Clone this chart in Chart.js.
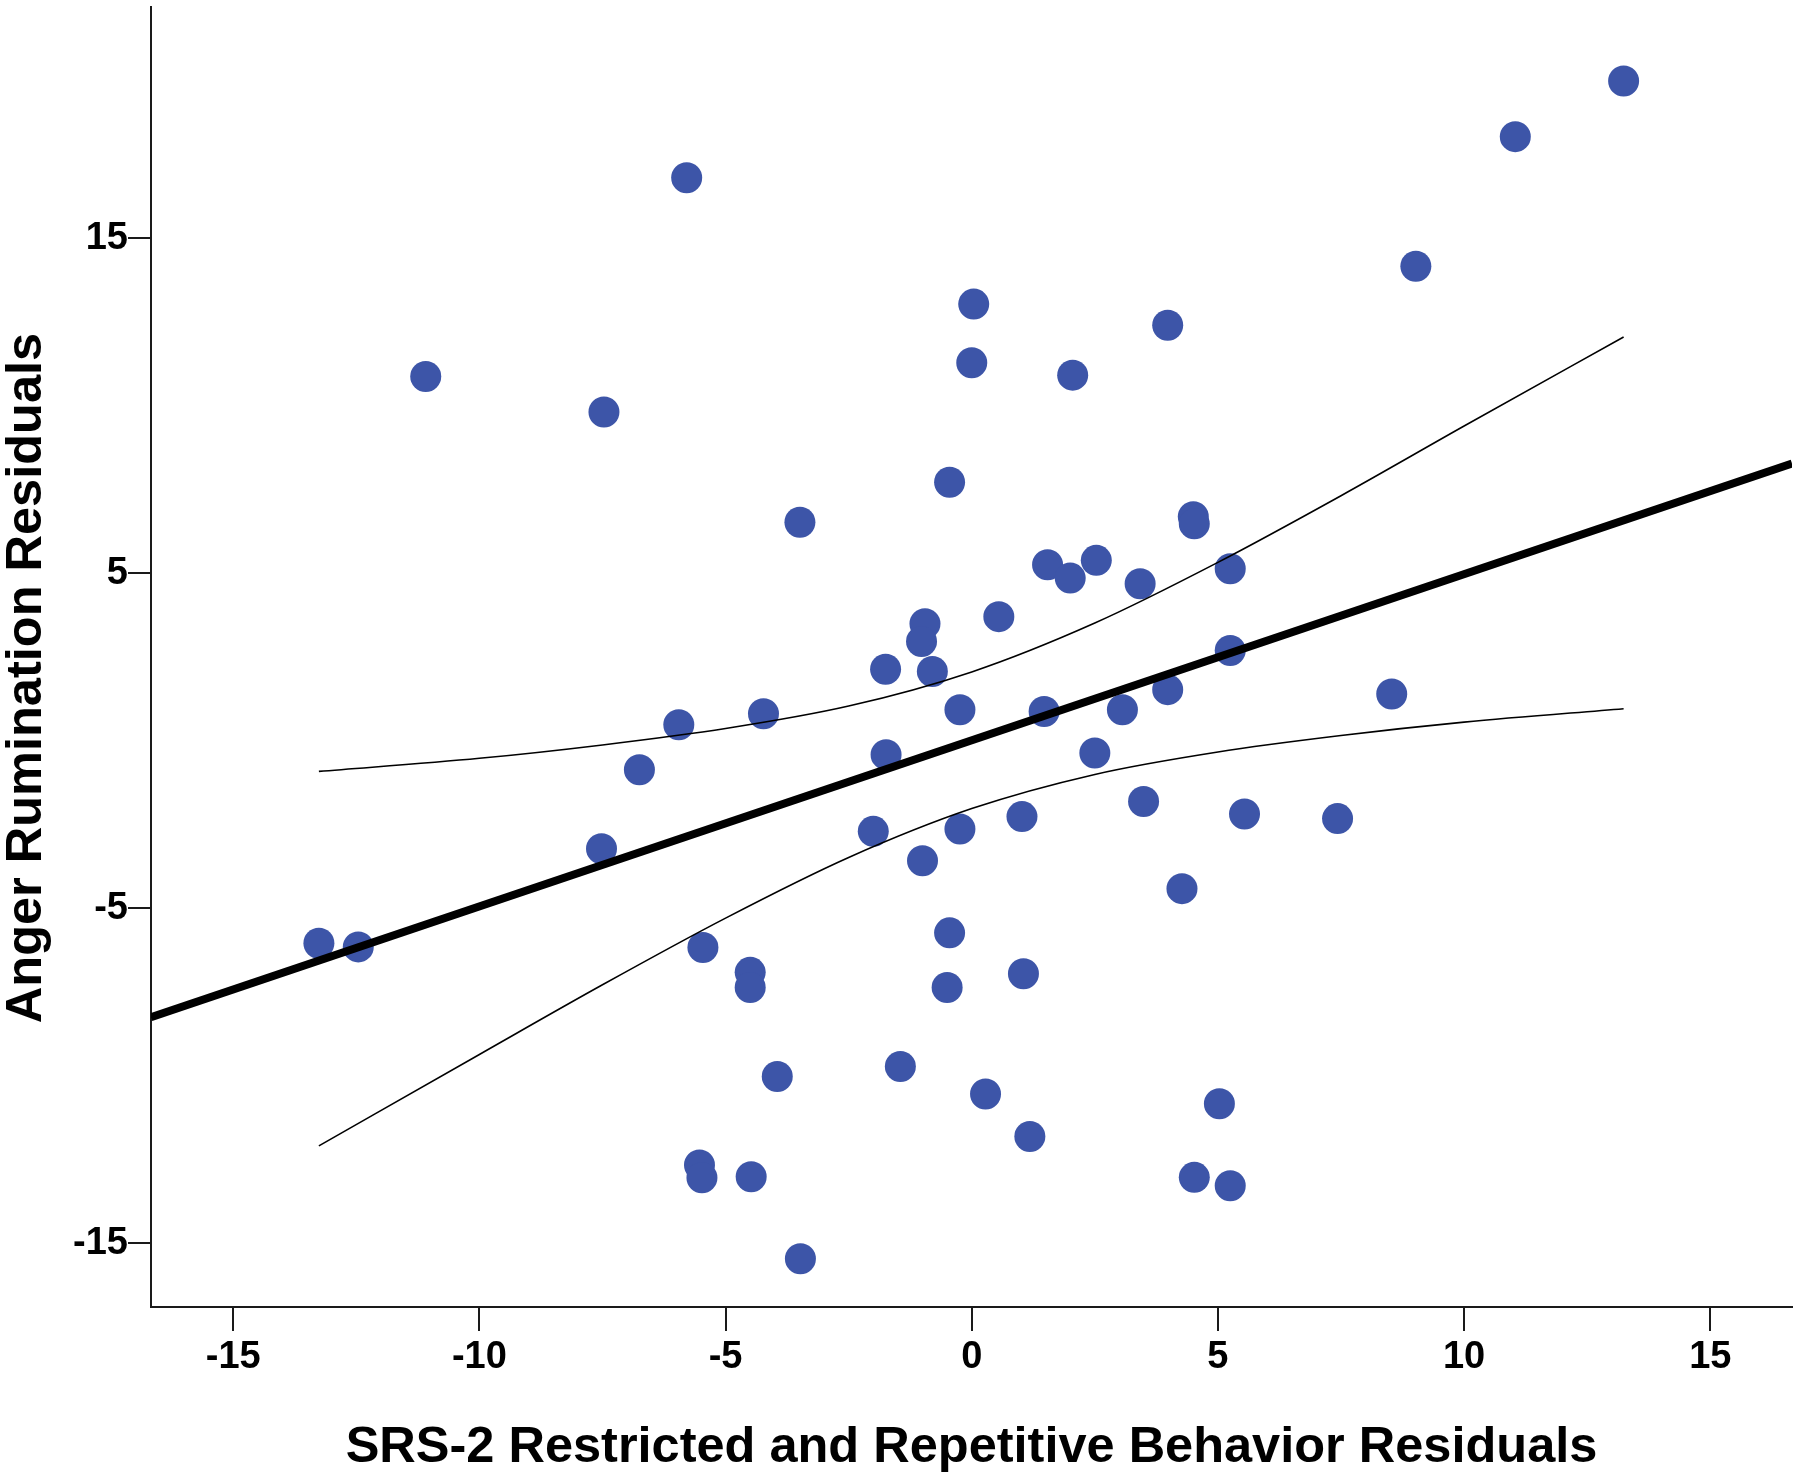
<!DOCTYPE html>
<html>
<head>
<meta charset="utf-8">
<script src="https://cdn.jsdelivr.net/npm/chart.js@4.4.1/dist/chart.umd.min.js"></script>
<style>
  html, body { margin: 0; padding: 0; background: #fff; }
  #wrap { width: 1800px; height: 1482px; }
</style>
</head>
<body>
<div id="wrap"><canvas id="residuals" width="1800" height="1482"></canvas></div>
<script>
// residuals
var srsResiduals = [13.24, 11.04, -5.79, 9.02, 0.04, 3.98, -11.09, 0.00, 2.05, -7.47,
    -0.45, -3.49, 4.50, 4.52, 1.54, 2.00, 2.53, 3.42, 5.25, 0.55,
    -0.95, -1.02, -1.75, -0.80, 5.25, -0.24, 1.47, 3.06, 3.98, -1.74,
    2.50, -2.00, -0.24, 1.02, -1.00, 3.49, 5.54, 4.27, -0.45, -0.50,
    1.05, -1.45, 0.28, 1.18, 5.03, 4.52, 5.25, 8.53, 7.43, -5.95,
    -4.23, -6.75, -7.52, -5.46, -4.50, -4.50, -13.26, -12.46, -3.95, -5.53,
    -5.48, -4.48, -3.48];
var angerResiduals = [19.69, 18.03, 16.80, 14.16, 13.03, 12.40, 10.87, 11.28, 10.91, 9.81,
    7.71, 6.52, 6.68, 6.47, 5.25, 4.85, 5.38, 4.68, 5.13, 3.70,
    3.49, 2.96, 2.13, 2.06, 2.69, 0.92, 0.87, 0.92, 1.52, -0.42,
    -0.37, -2.71, -2.64, -2.27, -3.59, -1.82, -2.19, -4.42, -5.74, -7.37,
    -6.96, -9.73, -10.55, -11.82, -10.84, -13.04, -13.29, 1.39, -2.33, 0.47,
    0.80, -0.87, -3.23, -6.18, -6.92, -7.37, -6.05, -6.16, -10.03, -12.67,
    -13.05, -13.02, -15.47];

// fit line and 95% band
var fitX = [-16.67, 16.66];
var fitY = [-8.26, 8.27];
var bandX = [-13.26, -10, -7.5, -5, -2.5, 0, 2.5, 5, 7.5, 10, 13.24];
var bandUpper = [-0.92, -0.53, -0.13, 0.36, 1.03, 2.05, 3.51, 5.32, 7.31, 9.39, 12.05];
var bandLower = [-12.10, -9.37, -7.29, -5.30, -3.49, -2.03, -1.01, -0.34, 0.15, 0.55, 0.95];

var xTicks = [-15, -10, -5, 0, 5, 10, 15];
var yTicks = [-15, -5, 5, 15];

function pares(xs, ys) {
    return xs.map(function(x, i) { return { x: x, y: ys[i] }; });
}

function fixTicks(valores) {
    return function(scale) {
        scale.ticks = valores.map(function(v) { return { value: v }; });
    };
}

// keep chart area where the original puts it
function fixSize(prop, valor) {
    return function(scale) {
        scale[prop] = valor;
        scale.paddingTop = 0;
        scale.paddingBottom = 0;
        scale.paddingLeft = 0;
        scale.paddingRight = 0;
    };
}

var fonte = '"Liberation Sans", Arial, sans-serif';
var corEixo = '#1a1a1a';

var bandStyle = {
    type: 'line',
    borderColor: '#000',
    borderWidth: 1.6,
    pointRadius: 0,
    fill: false,
    cubicInterpolationMode: 'monotone',
    order: 0
};

new Chart(document.getElementById('residuals').getContext('2d'), {
    type: 'scatter',
    data: {
        datasets: [
            Object.assign({ data: pares(bandX, bandUpper) }, bandStyle),
            Object.assign({ data: pares(bandX, bandLower) }, bandStyle),
            {
                type: 'line',
                data: pares(fitX, fitY),
                borderColor: '#000',
                borderWidth: 8,
                pointRadius: 0,
                fill: false,
                order: 0
            },
            {
                data: pares(srsResiduals, angerResiduals),
                backgroundColor: 'rgb(61,85,168)',
                borderWidth: 0,
                pointRadius: 15.5,
                pointHoverRadius: 15.5,
                order: 1
            }
        ]
    },
    options: {
        responsive: false,
        animation: false,
        events: [],
        layout: { autoPadding: false, padding: { left: 0, top: 7, right: 8, bottom: 0 } },
        plugins: { legend: { display: false }, tooltip: { enabled: false } },
        scales: {
            x: {
                type: 'linear',
                min: -16.67,
                max: 16.66,
                afterBuildTicks: fixTicks(xTicks),
                afterFit: fixSize('height', 175),
                border: { display: true, color: corEixo, width: 2 },
                grid: { drawOnChartArea: false, drawTicks: true, tickLength: 24, color: corEixo, lineWidth: 2 },
                ticks: { color: '#000', padding: 4, maxRotation: 0, font: { family: fonte, size: 38, weight: 'bold' } },
                title: {
                    display: true,
                    text: 'SRS-2 Restricted and Repetitive Behavior Residuals',
                    color: '#000',
                    padding: { top: 0, bottom: 9 },
                    font: { family: fonte, size: 50.5, weight: 'bold', lineHeight: 1 }
                }
            },
            y: {
                type: 'linear',
                min: -16.91,
                max: 21.9,
                afterBuildTicks: fixTicks(yTicks),
                afterFit: fixSize('width', 151),
                border: { display: true, color: corEixo, width: 2 },
                grid: { drawOnChartArea: false, drawTicks: true, tickLength: 23, color: corEixo, lineWidth: 2 },
                ticks: { color: '#000', padding: 0, font: { family: fonte, size: 38, weight: 'bold' } },
                title: {
                    display: true,
                    // trailing spaces nudge the title a little lower, as in the original
                    text: 'Anger Rumination Residuals\u00a0\u00a0\u00a0',
                    color: '#000',
                    padding: { top: 2, bottom: 0 },
                    font: { family: fonte, size: 50.5, weight: 'bold', lineHeight: 1 }
                }
            }
        }
    }
});
</script>
</body>
</html>
